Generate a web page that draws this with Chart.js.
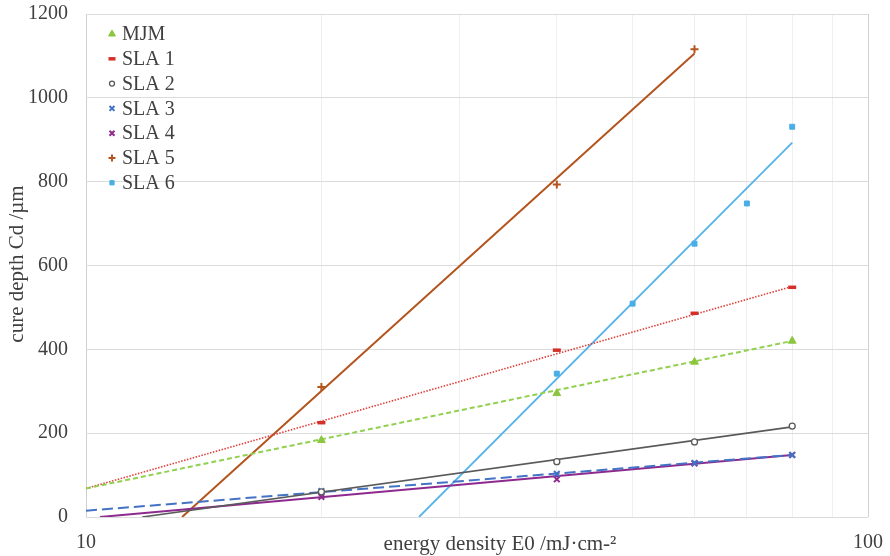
<!DOCTYPE html>
<html>
<head>
<meta charset="utf-8">
<script src="https://cdn.jsdelivr.net/npm/chart.js@4"></script>
<style>
html,body{margin:0;padding:0;background:#fff;}
#wrap{width:890px;height:556px;}
</style>
</head>
<body>
<div id="wrap"><canvas id="c" width="890" height="556"></canvas></div>
<script>
// ---- data ----
const seriesNames = ['MJM', 'SLA 1', 'SLA 2', 'SLA 3', 'SLA 4', 'SLA 5', 'SLA 6'];
const energy = [20, 40, 60, 80];
const energy5 = [20, 40, 60];
const energy6 = [40, 50, 60, 70, 80];
const mjm  = [183, 295, 370, 420];
const sla1 = [225, 398, 486, 548];
const sla2 = [60, 132, 179, 217];
const sla3 = [62, 103, 129, 148];
const sla4 = [48, 90, 128, 148];
const sla5 = [310, 793, 1116];
const sla6 = [342, 509, 652, 748, 931];
// trend line end points (start / end)
const trendFromE  = [10, 10, 11.8, 10, 10.42, 13.27, 26.66];
const trendFromCd = [68, 68, 0, 15, 0, 0, 0];
const trendToE    = [80, 80, 80, 80, 80, 60, 80];
const trendToCd   = [420, 550, 215, 148, 148, 1106, 893];
const xTicks = [10, 20, 30, 40, 50, 60, 70, 80, 90, 100];
const xLabels = ['10', '100'];
const xTitle = 'energy density E0 /mJ·cm-²';
const yTitle = 'cure depth Cd /µm';

// ---- styles ----
const colors = ['#8cc63f', '#d4302a', '#595959', '#4472c4', '#8e2a8e', '#b4541e', '#4aaee6'];
const lineColors = ['#92d050', '#e0403a', '#5a5a5a', '#4472c4', '#8e2a8e', '#b4541e', '#55b3ea'];
const pointStyles = ['triangle', 'line', 'circle', 'crossRot', 'crossRot', 'cross', 'rect'];
const pointRadius = [4.5, 4, 3, 4, 4, 4, 3.5];
const pointBorder = [1, 3.5, 1.3, 2, 2, 2, 1];
const pointFill = ['#8cc63f', '#d4302a', '#ffffff', '#4472c4', '#8e2a8e', '#b4541e', '#4aaee6'];
const lineDash = [[5, 3], [1.5, 1.5], [], [11, 5], [], [], []];
const lineWidth = [2, 1.6, 1.6, 2, 2, 2, 1.8];

const xs = [energy, energy, energy, energy, energy, energy5, energy6];
const ys = [mjm, sla1, sla2, sla3, sla4, sla5, sla6];

const FONT = "'Liberation Serif', 'Times New Roman', serif";
const TXT = '#404040';

const datasets = [];
for (let i = 0; i < seriesNames.length; i++) {
  datasets.push({
    label: seriesNames[i],
    data: xs[i].map((x, k) => ({x: x, y: ys[i][k]})),
    showLine: false,
    pointStyle: pointStyles[i],
    pointRadius: pointRadius[i],
    pointHoverRadius: pointRadius[i],
    pointBorderWidth: pointBorder[i],
    borderColor: colors[i],
    backgroundColor: pointFill[i],
    order: 0
  });
}
for (let i = 0; i < seriesNames.length; i++) {
  datasets.push({
    label: 'trend ' + seriesNames[i],
    data: [{x: trendFromE[i], y: trendFromCd[i]}, {x: trendToE[i], y: trendToCd[i]}],
    showLine: true,
    pointRadius: 0,
    borderColor: lineColors[i],
    borderWidth: lineWidth[i],
    borderDash: lineDash[i],
    backgroundColor: 'transparent',
    fill: false,
    order: 1
  });
}

const overlay = {
  id: 'overlay',
  afterDraw(chart) {
    const ctx = chart.ctx;
    ctx.save();
    // axis titles
    ctx.fillStyle = TXT;
    ctx.font = '21px ' + FONT;
    ctx.textAlign = 'center';
    ctx.textBaseline = 'middle';
    ctx.fillText(xTitle, 500, 544);
    ctx.save();
    ctx.translate(17, 264);
    ctx.rotate(-Math.PI / 2);
    ctx.fillText(yTitle, 0, 0);
    ctx.restore();
    // legend
    ctx.font = '20px ' + FONT;
    ctx.textAlign = 'left';
    for (let i = 0; i < seriesNames.length; i++) {
      const y = 34 + i * 24.8;
      ctx.fillStyle = pointFill[i];
      ctx.strokeStyle = colors[i];
      ctx.lineWidth = pointBorder[i];
      Chart.helpers.drawPoint(ctx, {pointStyle: pointStyles[i], radius: pointRadius[i] - 0.5, rotation: 0, borderWidth: pointBorder[i]}, 112, y);
      ctx.fillStyle = TXT;
      ctx.fillText(seriesNames[i], 122, y + 1);
    }
    ctx.restore();
  }
};

new Chart(document.getElementById('c'), {
  type: 'scatter',
  data: {datasets: datasets},
  options: {
    responsive: false,
    devicePixelRatio: 1,
    animation: false,
    layout: {padding: {top: 14, right: 22, left: 0, bottom: 0}},
    plugins: {legend: {display: false}, tooltip: {enabled: false}, title: {display: false}},
    scales: {
      x: {
        type: 'logarithmic',
        min: 10, max: 100,
        position: 'bottom',
        afterBuildTicks(scale) { scale.ticks = xTicks.map(v => ({value: v})); },
        afterFit(scale) { scale.height = 39; scale.paddingLeft = 0; scale.paddingRight = 0; },
        ticks: {
          autoSkip: false, maxRotation: 0, padding: 14,
          color: TXT, font: {family: FONT, size: 20},
          callback(v) { const s = String(v); return xLabels.includes(s) ? s : ''; }
        },
        grid: {
          drawTicks: false,
          lineWidth: 1,
          color(ctx) { const v = ctx.tick && ctx.tick.value; return (v === 10 || v === 100) ? '#d0d0d0' : '#efefef'; }
        },
        border: {display: false}
      },
      y: {
        min: 0, max: 1200,
        afterFit(scale) { scale.width = 86; scale.paddingTop = 0; scale.paddingBottom = 0; },
        ticks: {stepSize: 200, padding: 18, color: TXT, font: {family: FONT, size: 20},
          callback(v) { return String(v); }},
        grid: {drawTicks: false, color: '#dcdcdc', lineWidth: 1},
        border: {display: false}
      }
    }
  },
  plugins: [overlay]
});
</script>
</body>
</html>
